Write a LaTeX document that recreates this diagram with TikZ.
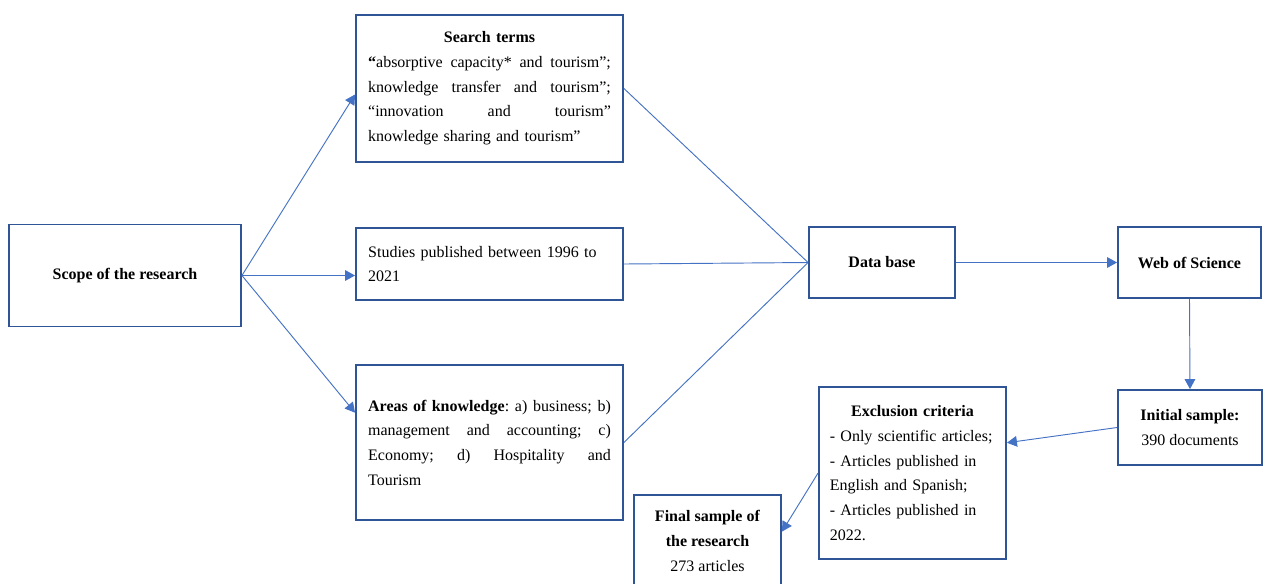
\documentclass[tikz,border=0pt]{standalone}
\usepackage{fontspec}
\setmainfont{Liberation Serif}
\usetikzlibrary{arrows.meta,calc}
\definecolor{boxblue}{HTML}{2F5597}
\definecolor{lineblue}{HTML}{4472C4}
\newcommand\jline[2][182pt]{\leavevmode\hbox to #1{#2}}
\begin{document}
\begin{tikzpicture}[x=0.75pt,y=-0.75pt,
  every node/.style={font=\fontsize{12}{18.5}\selectfont},
  box/.style={draw=boxblue, line width=1.4pt, inner sep=0pt},
  ln/.style={draw=lineblue, line width=0.7pt},
  arr/.style={ln, -{Triangle[length=7.5pt,width=8pt]}}]
\useasboundingbox (0,0) rectangle (1268,583);

\node[box, minimum width=174pt, minimum height=76.5pt] (scope) at (125,275.5) {\textbf{Scope of the research}};

\node[box, minimum width=200.25pt, minimum height=110.25pt, text width=182pt, align=left] (search) at (489.5,88.5)
 {\jline{\hfill\bfseries Search terms\hfill}\\
  \jline{\textbf{“}absorptive\hfill capacity*\hfill and\hfill tourism”;}\\
  \jline{knowledge\hfill transfer\hfill and\hfill tourism”;}\\
  \jline{“innovation\hfill and\hfill tourism”}\\
  knowledge sharing and tourism”};

\node[box, minimum width=200.25pt, minimum height=54pt, text width=182pt, align=left] (studies) at (489.5,264)
 {Studies published between 1996 to\\2021};

\node[box, minimum width=200.25pt, minimum height=116.25pt, text width=182pt, align=left] (areas) at (489.5,442.5)
 {\jline{\textbf{Areas of knowledge}:\hfill a)\hfill business;\hfill b)}\\
  \jline{management\hfill and\hfill accounting;\hfill c)}\\
  \jline{Economy;\hfill d)\hfill Hospitality\hfill and}\\
  Tourism};

\node[box, minimum width=109.5pt, minimum height=53.25pt] (db) at (882,262.5) {\textbf{Data base}};
\node[box, minimum width=107.25pt, minimum height=53.25pt] (wos) at (1189.5,262.5) {\textbf{Web of Science}};
\node[box, minimum width=108pt, minimum height=56.25pt, align=center] (init) at (1190,427.5)
 {\textbf{Initial sample:}\\390 documents};

\node[box, minimum width=140.25pt, minimum height=129pt, text width=124pt, align=left] (excl) at (912.5,473)
 {\jline[124pt]{\hfill\bfseries Exclusion criteria\hfill}\\
  - Only scientific articles;\\
  - Articles published in\\
  English and Spanish;\\
  - Articles published in\\
  2022.};

\node[box, minimum width=110.25pt, minimum height=69pt, align=center] (final) at (707.5,541)
 {\textbf{Final sample of}\\\textbf{the research}\\273 articles};

\draw[arr] (scope.east) -- ($(search.north west)!0.54!(search.south west)$);
\draw[arr] (scope.east) -- (studies.west |- scope.east);
\draw[arr] (scope.east) -- ($(areas.north west)!0.31!(areas.south west)$);
\draw[ln] (search.east) -- (db.west);
\draw[ln] (studies.east) -- (db.west);
\draw[ln] (areas.east) -- (db.west);
\draw[arr] (db.east) -- (wos.west);
\draw[arr] (wos.south) -- (init.north);
\draw[arr] (init.west) -- ($(excl.north east)!0.326!(excl.south east)$);
\draw[arr] (excl.west) -- ($(final.north east)!0.40!(final.south east)$);
\end{tikzpicture}
\end{document}
